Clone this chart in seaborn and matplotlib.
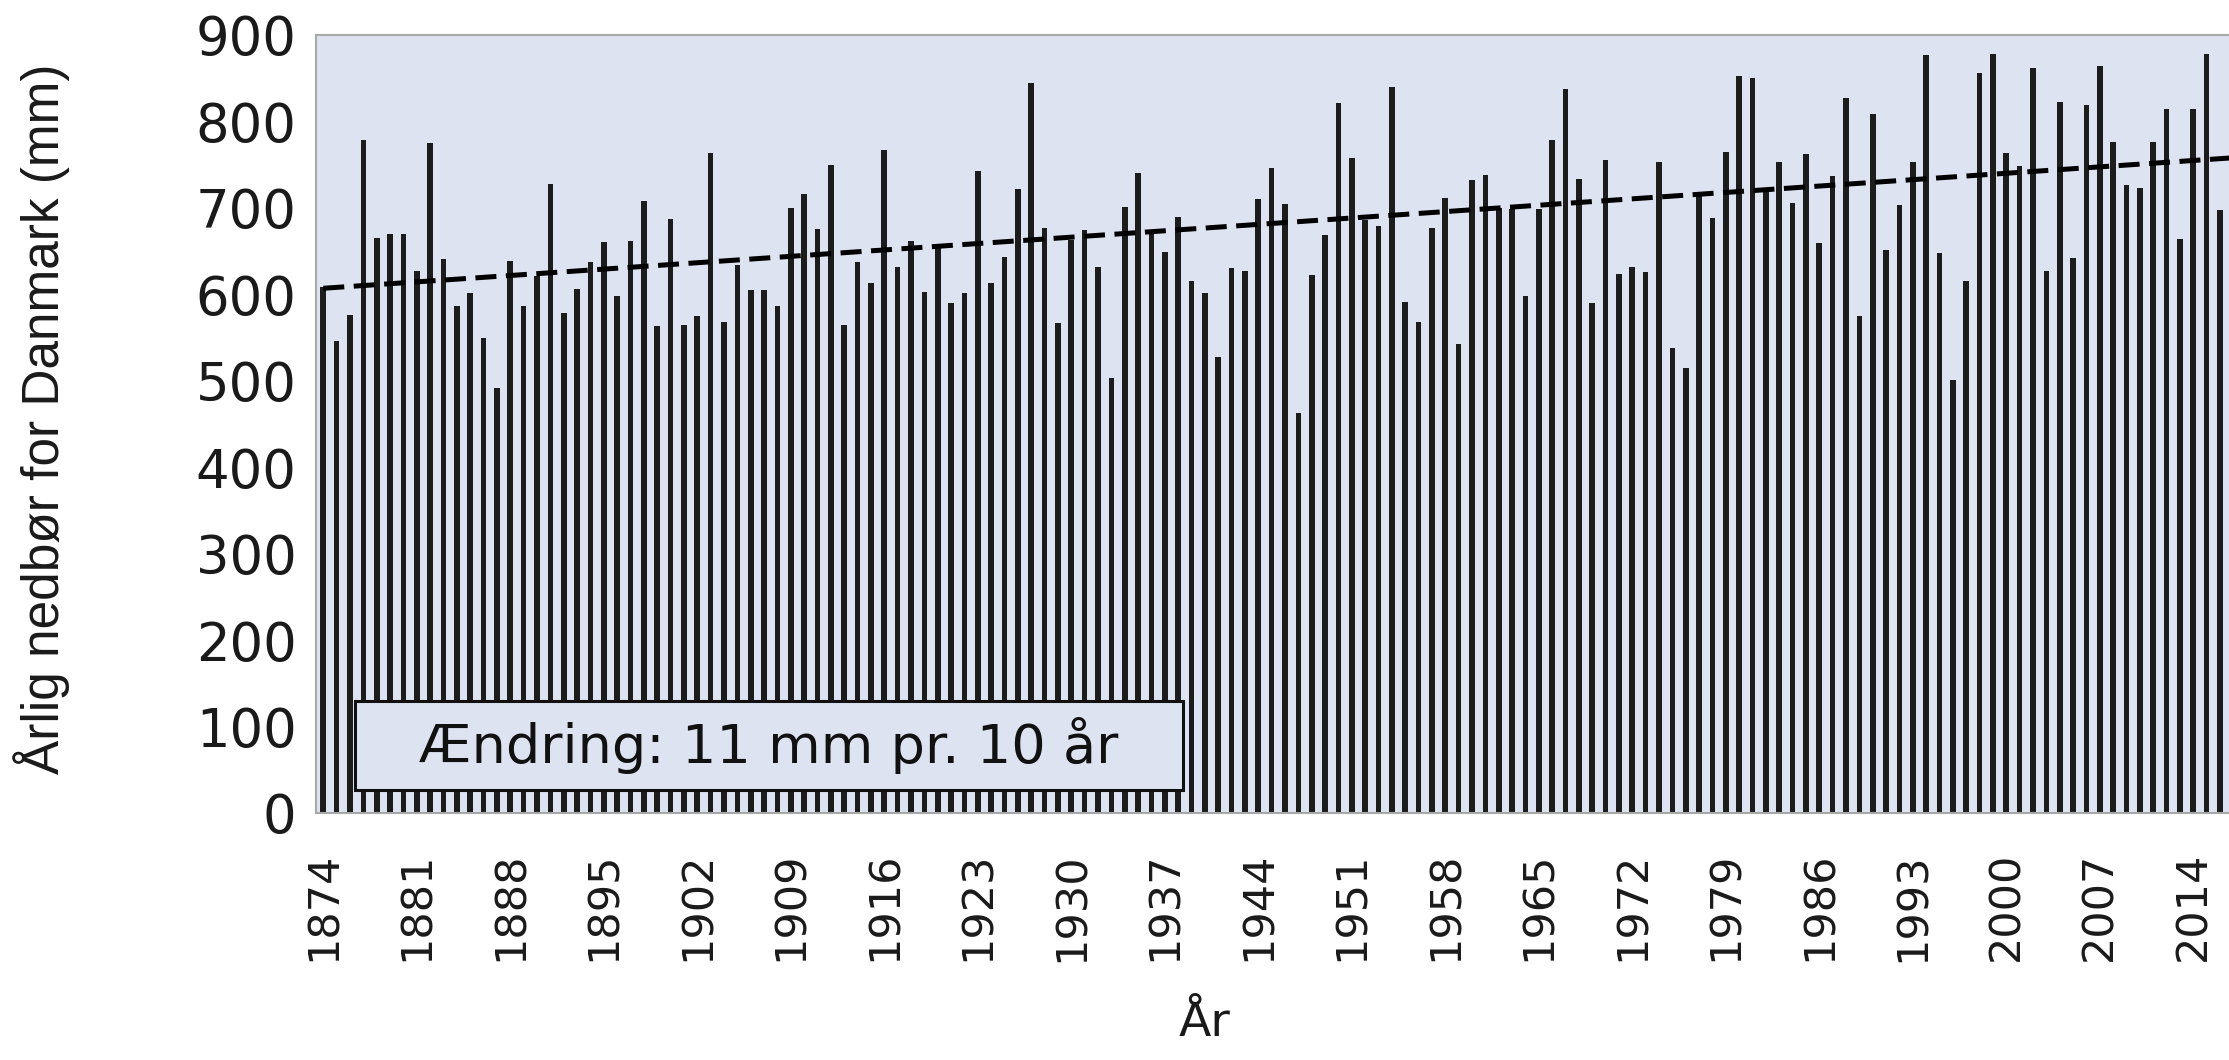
import numpy as np
import pandas as pd
import matplotlib
matplotlib.use("Agg")
import matplotlib.pyplot as plt
from matplotlib.patches import Rectangle
import seaborn as sns

# ---------------- data ----------------
years = list(range(1874, 2018))
precip_mm = [
    609, 546, 576, 778, 665, 670, 670, 627, 775, 641,   # 1874-1883
    587, 602, 549, 492, 639, 587, 621, 728, 578, 606,   # 1884-1893
    637, 661, 598, 662, 708, 563, 687, 564, 575, 763,   # 1894-1903
    568, 634, 605, 605, 587, 700, 716, 676, 750, 564,   # 1904-1913
    637, 613, 767, 632, 662, 603, 655, 590, 602, 743,   # 1914-1923
    613, 643, 722, 845, 677, 567, 663, 674, 632, 503,   # 1924-1933
    701, 740, 672, 649, 690, 615, 602, 528, 630, 627,   # 1934-1943
    710, 746, 705, 463, 622, 669, 821, 758, 686, 679,   # 1944-1953
    840, 591, 568, 677, 711, 542, 732, 738, 700, 699,   # 1954-1963
    598, 699, 778, 838, 733, 590, 755, 624, 632, 626,   # 1964-1973
    753, 538, 515, 715, 688, 765, 853, 850, 718, 753,   # 1974-1983
    706, 762, 659, 737, 827, 575, 809, 651, 703, 753,   # 1984-1993
    877, 648, 501, 616, 856, 878, 764, 748, 862, 627,   # 1994-2003
    823, 642, 819, 864, 776, 727, 723, 776, 814, 664,   # 2004-2013
    814, 878, 698, 845,                                 # 2014-2017
]
tick_years = list(range(1874, 2015, 7))
y_ticks = list(range(0, 901, 100))
trend_years = [1874, 2017]
trend_mm = [607, 758]

y_label = "Årlig nedbør for Danmark (mm)"
x_label = "År"
note = "Ændring: 11 mm pr. 10 år"

df = pd.DataFrame({"year": years, "mm": precip_mm})

# ---------------- styling ----------------
sns.set_theme(style="white")
plt.rcParams["font.family"] = ["DejaVu Sans"]

W, H = 2229, 1060
fig = plt.figure(figsize=(W / 100, H / 100), dpi=100)
fig.patch.set_facecolor("white")

ax_left_px, ax_right_px = 316, 2240
ax_top_px, ax_bot_px = 35, 813
ax = fig.add_axes([ax_left_px / W, (H - ax_bot_px) / H,
                   (ax_right_px - ax_left_px) / W, (ax_bot_px - ax_top_px) / H])
ax.set_facecolor("#dde3f0")

sns.barplot(data=df, x="year", y="mm", native_scale=True, color="#1c1c1c",
            saturation=1, width=0.42, errorbar=None, linewidth=0, ax=ax)

ax.plot(trend_years, trend_mm, color="black", lw=3.6,
        linestyle=(0, (4.2, 1.9)), zorder=4, solid_capstyle="butt")

px_per_year = 13.357
x0_px = 323.3
ax.set_xlim(1874 - (x0_px - ax_left_px) / px_per_year,
            1874 + (ax_right_px - x0_px) / px_per_year)
ax.set_ylim(0, 900)

ax.set_xticks(tick_years)
ax.set_xticklabels([str(t) for t in tick_years], rotation=90, fontsize=31,
                   color="#1a1a1a")
ax.set_yticks(y_ticks)
ax.set_yticklabels([str(t) for t in y_ticks], fontsize=38, color="#1a1a1a")
ax.tick_params(axis="x", length=0, pad=28)
ax.tick_params(axis="y", length=0, pad=14)
ax.set_xlabel("")
ax.set_ylabel("")

for side in ["top", "left", "bottom"]:
    ax.spines[side].set_visible(True)
    ax.spines[side].set_color("#a8a8a8")
    ax.spines[side].set_linewidth(1.5)
ax.spines["right"].set_visible(False)

# annotation box
aw = ax_right_px - ax_left_px
ah = ax_bot_px - ax_top_px
bx0, bx1, by0, by1 = 355, 1183, 701, 790
ax.add_patch(Rectangle(((bx0 - ax_left_px) / aw, (ax_bot_px - by1) / ah),
                       (bx1 - bx0) / aw, (by1 - by0) / ah,
                       transform=ax.transAxes, facecolor="#dde3f0",
                       edgecolor="#111111", lw=2.2, zorder=5))
ax.text(((bx0 + bx1) / 2 - ax_left_px) / aw, (ax_bot_px - (by0 + by1) / 2) / ah,
        note, transform=ax.transAxes, ha="center", va="center",
        fontsize=39, color="#111111", zorder=6)

# axis titles
fig.text(1205 / W, 1 - 1023 / H, x_label, ha="center", va="center",
         fontsize=34, color="#1a1a1a")
fig.text(42 / W, 1 - 419 / H, y_label, rotation=90, ha="center", va="center",
         fontsize=37, color="#1a1a1a", family=["Liberation Sans", "DejaVu Sans"])

fig.savefig("out.png", dpi=100)
